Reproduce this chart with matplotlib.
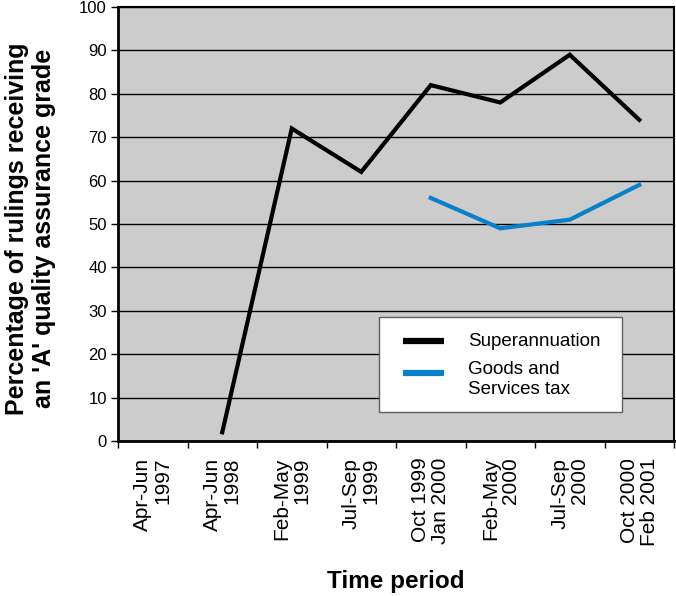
import numpy as np
import matplotlib
matplotlib.use("Agg")
import matplotlib.pyplot as plt
from matplotlib.patches import Rectangle

plt.rcParams["font.family"] = ["Liberation Sans", "DejaVu Sans"]

periods = ["Apr-Jun\n1997", "Apr-Jun\n1998", "Feb-May\n1999", "Jul-Sep\n1999",
           "Oct 1999\nJan 2000", "Feb-May\n2000", "Jul-Sep\n2000", "Oct 2000\nFeb 2001"]
superannuation = [np.nan, 2, 72, 62, 82, 78, 89, 74]
gst = [np.nan, np.nan, np.nan, np.nan, 56, 49, 51, 59]
series_names = ["Superannuation", "Goods and\nServices tax"]

BLACK = "#000000"
BLUE = "#0a80c8"

fig = plt.figure(figsize=(6.76, 5.96), dpi=100)
ax = fig.add_axes([118 / 676, 155 / 596, 556 / 676, 434 / 596])
ax.set_facecolor("#cccccc")

x = np.arange(len(periods)) + 0.5
ax.plot(x, superannuation, color=BLACK, lw=3, solid_joinstyle="miter")
ax.plot(x, gst, color=BLUE, lw=3, solid_joinstyle="miter")

ax.set_xlim(0, len(periods))
ax.set_ylim(0, 100)
ax.set_yticks(np.arange(0, 101, 10))
ax.yaxis.grid(True, color="black", lw=1)
ax.set_axisbelow(True)

# category boundaries as ticks, labels centred between them
ax.set_xticks(np.arange(0, len(periods) + 1))
ax.set_xticklabels([])
ax.set_xticks(x, minor=True)
ax.set_xticklabels(periods, minor=True, rotation=90, ha="center", va="top",
                   multialignment="right", fontsize=15, linespacing=1.05)
ax.tick_params(axis="x", which="minor", length=0, pad=12)
ax.tick_params(axis="x", which="major", length=5, width=1, direction="out")
ax.tick_params(axis="y", length=5, width=1, direction="out", labelsize=12, pad=3)

for s in ax.spines.values():
    s.set_color("black")
    s.set_linewidth(1.5)
ax.spines["left"].set_linewidth(2)
ax.spines["bottom"].set_linewidth(2)

ax.set_ylabel("Percentage of rulings receiving\nan 'A' quality assurance grade",
              fontsize=18, fontweight="bold", linespacing=1.15)
ax.yaxis.label.set_va("center")
ax.yaxis.label.set_rotation_mode("anchor")
ax.yaxis.set_label_coords(-0.158, 0.49)

ax.set_xlabel("Time period", fontsize=17.5, fontweight="bold")
ax.xaxis.label.set_va("center")
ax.xaxis.set_label_coords(0.5, -0.3226)

# legend box drawn by hand so the blue key sits on the first text line
tr = ax.transAxes
ax.add_patch(Rectangle((0.469, 0.067), 0.437, 0.219, transform=tr,
                       facecolor="white", edgecolor="#606060", lw=1, zorder=5))
key_rows = [(0.2304, series_names[0], BLACK), (0.1567, series_names[1], BLUE)]
for yk, name, col in key_rows:
    ax.plot([0.5126, 0.5863], [yk, yk], transform=tr, color=col, lw=4.5,
            solid_capstyle="butt", zorder=6)
ax.text(0.6295, 0.2304, series_names[0], transform=tr, va="center", ha="left",
        fontsize=13.5, zorder=7)
ax.text(0.6295, 0.1567 + 0.027, series_names[1], transform=tr, va="top", ha="left",
        fontsize=13.5, linespacing=1.2, zorder=7)

fig.savefig("out.png", dpi=100)
